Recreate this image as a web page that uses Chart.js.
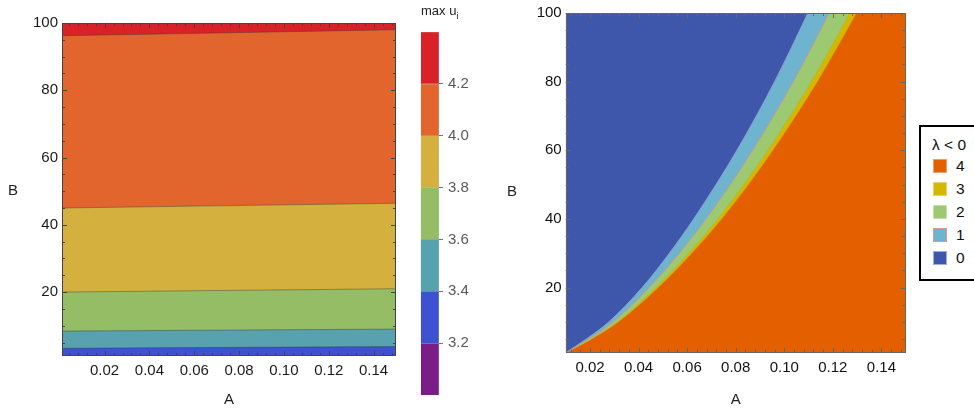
<!DOCTYPE html>
<html>
<head>
<meta charset="utf-8">
<script src="https://cdn.jsdelivr.net/npm/chart.js@4.4.0/dist/chart.umd.min.js"></script>
<style>
  body { margin:0; background:#fff; width:974px; height:409px; overflow:hidden; position:relative; font-family:"Liberation Sans", Arial, sans-serif; }
  canvas { position:absolute; top:0; }
  .ttl { position:absolute; font-size:15px; line-height:18px; color:#222; }
  #legend { position:absolute; left:919px; top:125px; width:70px; height:152px; border:2px solid #000; background:#fff; }
  #legend .lt { position:absolute; left:11px; top:9px; font-size:15.5px; line-height:18px; color:#111; }
  #legend .li { position:absolute; left:12px; font-size:15.5px; line-height:14px; color:#111; }
  #legend .sw { position:absolute; left:0; top:0; width:12px; height:12px; }
  #legend .tx { position:absolute; left:23px; top:0; }
</style>
</head>
<body>
<canvas id="left" width="400" height="409" style="left:0"></canvas>
<canvas id="bar" width="70" height="409" style="left:410px"></canvas>
<canvas id="right" width="390" height="409" style="left:530px"></canvas>
<div class="ttl" style="left:8px; top:181px">B</div>
<div class="ttl" style="left:507px; top:182px">B</div>
<div class="ttl" style="left:421px; top:2px; font-size:13px">max u<sub style="font-size:9px">i</sub></div>
<div id="legend"><div class="lt">λ &lt; 0</div></div>
<script>
// ---- left panel: contour bands of max u_i ----
const leftA = [0.001, 0.15];
const edgeTop = [100, 100];
const edgeRedOrange = [96.2, 98.0];
const edgeOrangeYellow = [45.0, 46.4];
const edgeYellowGreen = [20.0, 21.0];
const edgeGreenTeal = [8.4, 9.0];
const edgeTealBlue = [3.3, 3.8];

// colour bar levels
const barLevels = [3.0, 3.2, 3.4, 3.6, 3.8, 4.0, 4.2, 4.4];
const barTicks = [3.2, 3.4, 3.6, 3.8, 4.0, 4.2];
const bandColors = ['#7B1D87', '#3E51D1', '#58A2AF', '#94BD66', '#D4B13F', '#E2652E', '#D92227'];

// ---- right panel: number of negative eigenvalues ----
const rightA = [0.01, 0.15];
const regionB = [1, 5, 10, 20, 30, 40, 50, 60, 70, 80, 90, 100];
const edge01 = [0.01, 0.0185, 0.0278, 0.0415, 0.0527, 0.0627, 0.0719, 0.0805, 0.0885, 0.0960, 0.1030, 0.1097];
const edge12 = [0.01, 0.0195, 0.0296, 0.0444, 0.0568, 0.0678, 0.0778, 0.0870, 0.0956, 0.1037, 0.1113, 0.1185];
const edge23 = [0.01, 0.0204, 0.0312, 0.0472, 0.0606, 0.0726, 0.0833, 0.0932, 0.1024, 0.1111, 0.1192, 0.1269];
const edge34 = [0.01, 0.0207, 0.0318, 0.0481, 0.0619, 0.0742, 0.0852, 0.0953, 0.1047, 0.1136, 0.1218, 0.1297];
const regionLabels = ['4', '3', '2', '1', '0'];
const regionColors = ['#E35F00', '#D4B800', '#9DC972', '#6EB4CE', '#3F57AB'];
const swatchBorders = ['#F0A070', '#E6D46A', '#C5E0A8', '#D99A90', '#A0AEE0'];

const xTicks = [0.02, 0.04, 0.06, 0.08, 0.10, 0.12, 0.14];
const yTicks = [20, 40, 60, 80, 100];

const FONT = { family: '"Liberation Sans", Arial, sans-serif', size: 15 };

// frame with inward major/minor ticks on all four sides
const frameTicks = {
  id: 'frameTicks',
  afterDatasetsDraw(chart, args, o) {
    const { ctx, chartArea: a } = chart;
    const sx = chart.scales.x, sy = chart.scales.y;
    ctx.save();
    ctx.strokeStyle = o.color;
    ctx.lineWidth = 1;
    ctx.beginPath();
    for (let i = 1; i <= 37; i++) {
      const v = i * 0.004;
      if (v < sx.min || v > sx.max) continue;
      const len = i % 5 === 0 ? 5 : 3;
      const px = Math.round(sx.getPixelForValue(v)) + 0.5;
      ctx.moveTo(px, a.bottom); ctx.lineTo(px, a.bottom - len);
      ctx.moveTo(px, a.top); ctx.lineTo(px, a.top + len);
    }
    for (let j = 1; j <= 20; j++) {
      const v = j * 5;
      if (v < sy.min || v > sy.max) continue;
      const len = j % 4 === 0 ? 5 : 3;
      const py = Math.round(sy.getPixelForValue(v)) + 0.5;
      ctx.moveTo(a.left, py); ctx.lineTo(a.left + len, py);
      ctx.moveTo(a.right, py); ctx.lineTo(a.right - len, py);
    }
    ctx.stroke();
    ctx.strokeRect(Math.round(a.left) + 0.5, Math.round(a.top) + 0.5, Math.round(a.width) - 1, Math.round(a.height) - 1);
    ctx.restore();
  }
};

function pts(xs, ys) { return xs.map((x, i) => ({ x: x, y: ys[i] })); }

function band(xs, ys, fillTo, color, line, lw) {
  return {
    data: pts(xs, ys), fill: fillTo, backgroundColor: color,
    borderColor: line, borderWidth: lw, pointRadius: 0,
    cubicInterpolationMode: 'monotone'
  };
}

function axes(xmin, xmax, xh, yw, tickColor) {
  return {
    x: {
      type: 'linear', min: xmin, max: xmax,
      afterBuildTicks: s => { s.ticks = xTicks.map(v => ({ value: v })); },
      afterFit: s => { s.height = xh; },
      grid: { display: false, drawTicks: false },
      border: { display: false },
      ticks: { color: tickColor, font: FONT, padding: 6, maxRotation: 0, autoSkip: false, callback: v => v.toFixed(2) },
      title: { display: true, text: 'A', color: '#222', font: FONT, padding: { top: 0, bottom: 0 } }
    },
    y: {
      type: 'linear', min: 1, max: 100,
      afterBuildTicks: s => { s.ticks = yTicks.map(v => ({ value: v })); },
      afterFit: s => { s.width = yw; },
      grid: { display: false, drawTicks: false },
      border: { display: false },
      ticks: { color: tickColor, font: FONT, padding: 4, callback: v => String(v) }
    }
  };
}

const bandLine = 'rgba(60,60,60,0.55)';

new Chart(document.getElementById('left'), {
  type: 'line',
  data: {
    datasets: [
      band(leftA, edgeTealBlue, 'start', bandColors[1], bandLine, 0.8),
      band(leftA, edgeGreenTeal, 'start', bandColors[2], bandLine, 0.8),
      band(leftA, edgeYellowGreen, 'start', bandColors[3], bandLine, 0.8),
      band(leftA, edgeOrangeYellow, 'start', bandColors[4], bandLine, 0.8),
      band(leftA, edgeRedOrange, 'start', bandColors[5], bandLine, 0.8),
      band(leftA, edgeTop, 'start', bandColors[6], 'rgba(0,0,0,0)', 0)
    ]
  },
  options: {
    responsive: false, animation: false,
    layout: { padding: { top: 23, right: 4, left: 0, bottom: 0 } },
    plugins: { legend: { display: false }, tooltip: { enabled: false }, frameTicks: { color: '#444' } },
    scales: axes(0.001, 0.15, 53, 62, '#1a1a1a')
  },
  plugins: [frameTicks]
});

// colour bar as floating bars
new Chart(document.getElementById('bar'), {
  type: 'bar',
  data: {
    labels: ['u'],
    datasets: bandColors.map((c, i) => ({
      data: [[barLevels[i], barLevels[i + 1]]],
      backgroundColor: c, borderColor: 'rgba(60,60,60,0.35)', borderWidth: 0.6,
      barPercentage: 1, categoryPercentage: 1, grouped: false
    }))
  },
  options: {
    responsive: false, animation: false,
    layout: { padding: { top: 32, right: 0, left: 10.7, bottom: 13 } },
    plugins: { legend: { display: false }, tooltip: { enabled: false } },
    scales: {
      x: { display: false },
      y: {
        position: 'right', min: 3.0, max: 4.4,
        afterBuildTicks: s => { s.ticks = barTicks.map(v => ({ value: v })); },
        afterFit: s => { s.width = 41; },
        grid: { drawOnChartArea: false, drawTicks: true, tickLength: 4, color: '#777' },
        border: { display: false },
        ticks: { color: '#5a5a5a', font: FONT, padding: 5, callback: v => v.toFixed(1) }
      }
    }
  }
});

new Chart(document.getElementById('right'), {
  type: 'line',
  data: {
    datasets: [
      band(edge01, regionB, 'end', regionColors[4], '#8E9BD4', 1),
      band(edge12, regionB, 'end', regionColors[3], '#D8908A', 0.8),
      band(edge23, regionB, 'end', regionColors[2], '#A8B84A', 0.6),
      band(edge34, regionB, 'end', regionColors[1], '#C9A600', 0.6),
      band(rightA, [100, 100], 'start', regionColors[0], 'rgba(0,0,0,0)', 0)
    ]
  },
  options: {
    responsive: false, animation: false,
    layout: { padding: { top: 10.3, right: 14.3, left: 0, bottom: 0 } },
    plugins: { legend: { display: false }, tooltip: { enabled: false }, frameTicks: { color: '#666' } },
    scales: axes(0.01, 0.15, 56.3, 35.7, '#111')
  },
  plugins: [frameTicks]
});

// legend for the right panel
const lg = document.getElementById('legend');
regionLabels.forEach((t, i) => {
  const row = document.createElement('div');
  row.className = 'li';
  row.style.top = (32 + i * 23) + 'px';
  row.innerHTML = '<span class="sw" style="background:' + regionColors[i] + ';border:1px solid ' + swatchBorders[i] + '"></span><span class="tx">' + t + '</span>';
  lg.appendChild(row);
});
</script>
</body>
</html>
